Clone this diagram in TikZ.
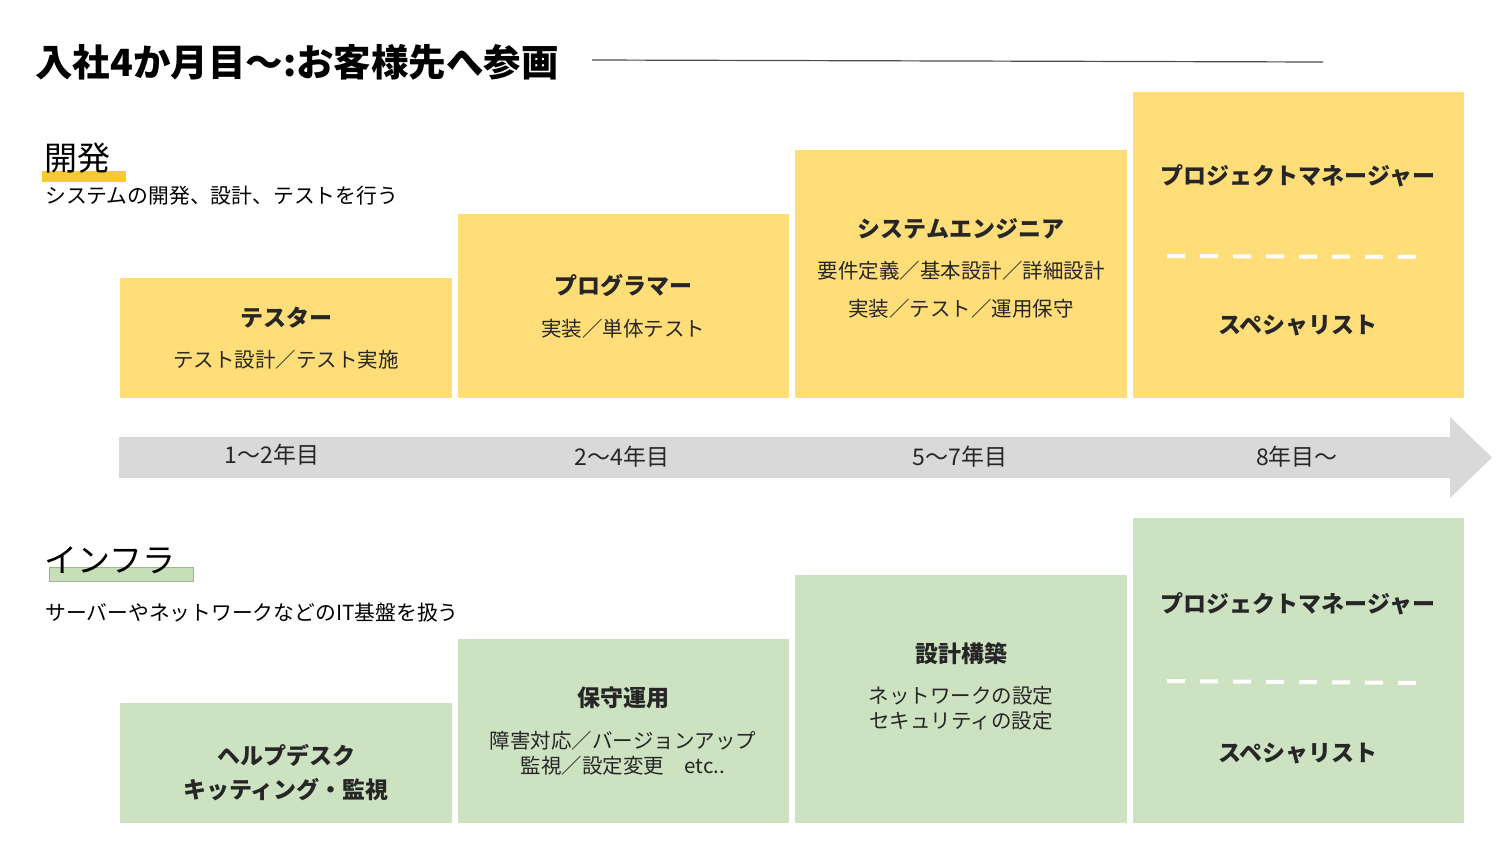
\documentclass[tikz,border=0pt]{standalone}
\usepackage{fontspec}
\setmainfont{Noto Sans CJK JP}
\definecolor{ybox}{HTML}{FFDE7A}
\definecolor{gbox}{HTML}{CCE2C1}
\definecolor{yline}{HTML}{F9C932}
\definecolor{gline}{HTML}{C6DFB9}
\definecolor{arrowgray}{HTML}{D9D9D9}
\begin{document}
\begin{tikzpicture}[x=1pt,y=-1pt,
  ttl/.style={font=\fontsize{23}{27}\selectfont\bfseries, text=black!85, inner sep=0pt},
  txt/.style={font=\fontsize{20.5}{25}\selectfont, text=black!85, inner sep=0pt, align=center},
  yr/.style={font=\fontsize{23}{27}\selectfont, text=black!85, inner sep=0pt},
  sepline/.style={white, line width=4pt, dash pattern=on 18pt off 15pt}
]
\useasboundingbox (0,0) rectangle (1500,844);
\fill[white] (0,0) rectangle (1500,844);
% title
\node[anchor=west, inner sep=0pt, font=\fontsize{37.5}{40}\selectfont\bfseries] (title) at (35,62) {入社4か月目～:お客様先へ参画};
\coordinate (tl1) at (592,60);
\coordinate (tl2) at (1323,62);
\draw[black!70, line width=1.2pt] (tl1) -- (tl2);
% dev header
\fill[yline] (42,171) rectangle (126,182);
\node[anchor=west, inner sep=0pt, font=\fontsize{33}{36}\selectfont] (dev) at (44,158) {開発};
\node[anchor=west, inner sep=0pt, font=\fontsize{20.8}{24}\selectfont] (devsub) at (45,196) {システムの開発、設計、テストを行う};
% yellow boxes
\fill[ybox] (120,278) rectangle (452,398);
\fill[ybox] (458,214) rectangle (789,398);
\fill[ybox] (795,150) rectangle (1127,398);
\fill[ybox] (1133,92) rectangle (1464,398);
\node[ttl] (y1t) at (286,318) {テスター};
\node[txt] (y1s) at (286,360) {テスト設計／テスト実施};
\node[ttl] (y2t) at (623,286) {プログラマー};
\node[txt] (y2s) at (623,329) {実装／単体テスト};
\node[ttl] (y3t) at (961,229) {システムエンジニア};
\node[txt] (y3s) at (961,271) {要件定義／基本設計／詳細設計};
\node[txt] (y3u) at (961,309) {実装／テスト／運用保守};
\node[ttl] (y4t) at (1298,176) {プロジェクトマネージャー};
\coordinate (yd1) at (1167,256);
\coordinate (yd2) at (1416,257);
\draw[sepline] (yd1) -- (yd2);
\node[ttl] (y4s) at (1298,326) {スペシャリスト};
% arrow
\fill[arrowgray] (119,437) -- (1450,437) -- (1450,417) -- (1492,457.5) -- (1450,498) -- (1450,478) -- (119,478) -- cycle;
\node[yr] (a1) at (272,455) {1～2年目};
\node[yr] (a2) at (622,457) {2～4年目};
\node[yr] (a3) at (960,457) {5～7年目};
\node[yr] (a4) at (1297,457) {8年目～};
% infra header
\fill[gline] (49,567) rectangle (193,581);
\draw[gline!80!black, line width=0.6pt] (49,567) rectangle (193,581);
\node[anchor=west, inner sep=0pt, font=\fontsize{33}{36}\selectfont] (inf) at (44,560) {インフラ};
\node[anchor=west, inner sep=0pt, font=\fontsize{20.8}{24}\selectfont] (infsub) at (45,613) {サーバーやネットワークなどのIT基盤を扱う};
% green boxes
\fill[gbox] (120,703) rectangle (452,823);
\fill[gbox] (458,639) rectangle (789,823);
\fill[gbox] (795,575) rectangle (1127,823);
\fill[gbox] (1133,518) rectangle (1464,823);
\node[ttl] (g1t) at (286,755) {ヘルプデスク};
\node[ttl] (g1s) at (286,790) {キッティング・監視};
\node[ttl] (g2t) at (623,698) {保守運用};
\node[txt] (g2s) at (623,741) {障害対応／バージョンアップ};
\node[txt] (g2u) at (623,766) {監視／設定変更　etc..};
\node[ttl] (g3t) at (961,654) {設計構築};
\node[txt] (g3s) at (961,696) {ネットワークの設定};
\node[txt] (g3u) at (961,721) {セキュリティの設定};
\node[ttl] (g4t) at (1298,604) {プロジェクトマネージャー};
\coordinate (gd1) at (1167,681);
\coordinate (gd2) at (1416,683);
\draw[sepline] (gd1) -- (gd2);
\node[ttl] (g4s) at (1298,754) {スペシャリスト};
\end{tikzpicture}
\end{document}
